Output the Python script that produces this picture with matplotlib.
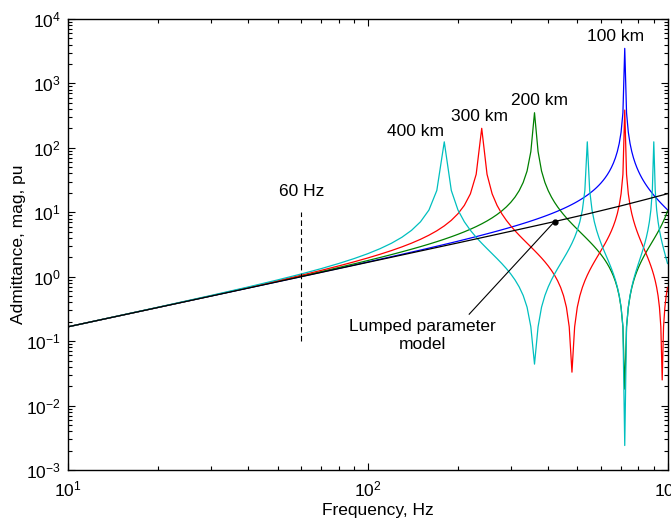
import matplotlib
matplotlib.use("Agg")
import matplotlib.pyplot as plt
from matplotlib.ticker import LogLocator

plt.rcParams['font.family'] = ['Liberation Sans', 'DejaVu Sans']
plt.rcParams['mathtext.fontset'] = 'custom'
plt.rcParams['mathtext.rm'] = 'Liberation Sans'
plt.rcParams['mathtext.it'] = 'Liberation Sans'
plt.rcParams['mathtext.bf'] = 'Liberation Sans'
plt.rcParams['mathtext.sf'] = 'Liberation Sans'

# frequency samples, Hz
freq = [10, 20, 30, 40, 50, 60, 70, 80, 90, 100,
        110, 120, 130, 140, 150, 160, 170, 180, 190, 200,
        210, 220, 230, 240, 250, 260, 270, 280, 290, 300,
        310, 320, 330, 340, 350, 360, 370, 380, 390, 400,
        410, 420, 430, 440, 450, 460, 470, 480, 490, 500,
        510, 520, 530, 540, 550, 560, 570, 580, 590, 600,
        610, 620, 630, 640, 650, 660, 670, 680, 690, 700,
        710, 720, 730, 740, 750, 760, 770, 780, 790, 800,
        810, 820, 830, 840, 850, 860, 870, 880, 890, 900,
        910, 920, 930, 940, 950, 960, 970, 980, 990, 1000]

y_100km = [0.1667, 0.3335, 0.5007, 0.6683, 0.8366, 1.006, 1.176, 1.347, 1.520, 1.694,
           1.869, 2.047, 2.227, 2.409, 2.593, 2.780, 2.971, 3.164, 3.361, 3.562,
           3.767, 3.977, 4.191, 4.410, 4.635, 4.867, 5.104, 5.349, 5.601, 5.862,
           6.131, 6.410, 6.699, 7.000, 7.313, 7.639, 7.980, 8.337, 8.711, 9.104,
           9.518, 9.955, 10.42, 10.91, 11.43, 11.99, 12.59, 13.23, 13.92, 14.67,
           15.49, 16.38, 17.36, 18.44, 19.64, 20.99, 22.50, 24.23, 26.21, 28.51,
           31.22, 34.46, 38.40, 43.32, 49.63, 58.02, 69.75, 87.31, 116.6, 175.0,
           350.1, 3500.0, 350.1, 175.0, 116.6, 87.31, 69.75, 58.02, 49.63, 43.32,
           38.40, 34.46, 31.22, 28.51, 26.21, 24.23, 22.50, 20.99, 19.64, 18.44,
           17.36, 16.38, 15.49, 14.67, 13.92, 13.23, 12.59, 11.99, 11.43, 10.91]

y_200km = [0.1668, 0.3342, 0.5029, 0.6736, 0.8469, 1.024, 1.204, 1.390, 1.582, 1.781,
           1.989, 2.206, 2.434, 2.675, 2.931, 3.205, 3.500, 3.820, 4.169, 4.553,
           4.978, 5.456, 5.996, 6.616, 7.338, 8.192, 9.222, 10.50, 12.12, 14.26,
           17.23, 21.66, 29.02, 43.66, 87.49, 351.0, 87.49, 43.66, 29.02, 21.66,
           17.23, 14.26, 12.12, 10.50, 9.222, 8.192, 7.338, 6.616, 5.996, 5.456,
           4.978, 4.553, 4.169, 3.820, 3.500, 3.205, 2.931, 2.675, 2.434, 2.206,
           1.989, 1.781, 1.582, 1.390, 1.204, 1.024, 0.8469, 0.6736, 0.5029, 0.3342,
           0.1668, 0.018, 0.1668, 0.3342, 0.5029, 0.6736, 0.8469, 1.024, 1.204, 1.390,
           1.582, 1.781, 1.989, 2.206, 2.434, 2.675, 2.931, 3.205, 3.500, 3.820,
           4.169, 4.553, 4.978, 5.456, 5.996, 6.616, 7.338, 8.192, 9.222, 10.50]

y_300km = [0.1669, 0.3352, 0.5064, 0.6822, 0.8642, 1.055, 1.256, 1.470, 1.701, 1.954,
           2.233, 2.546, 2.903, 3.318, 3.810, 4.410, 5.163, 6.147, 7.500, 9.502,
           12.80, 19.34, 38.85, 201.0, 38.85, 19.34, 12.80, 9.502, 7.500, 6.147,
           5.163, 4.410, 3.810, 3.318, 2.903, 2.546, 2.233, 1.954, 1.701, 1.470,
           1.256, 1.055, 0.8642, 0.6822, 0.5064, 0.3352, 0.1669, 0.033, 0.1669, 0.3352,
           0.5064, 0.6822, 0.8642, 1.055, 1.256, 1.470, 1.701, 1.954, 2.233, 2.546,
           2.903, 3.318, 3.810, 4.410, 5.163, 6.147, 7.500, 9.502, 12.80, 19.34,
           38.85, 386.0, 38.85, 19.34, 12.80, 9.502, 7.500, 6.147, 5.163, 4.410,
           3.810, 3.318, 2.903, 2.546, 2.233, 1.954, 1.701, 1.470, 1.256, 1.055,
           0.8642, 0.6822, 0.5064, 0.3352, 0.1669, 0.025, 0.1669, 0.3352, 0.5064, 0.6822]

y_400km = [0.167, 0.337, 0.512, 0.695, 0.891, 1.103, 1.337, 1.603, 1.910, 2.276,
           2.728, 3.308, 4.096, 5.248, 7.128, 10.83, 21.83, 124.0, 21.83, 10.83,
           7.128, 5.248, 4.096, 3.308, 2.728, 2.276, 1.910, 1.603, 1.337, 1.103,
           0.891, 0.695, 0.512, 0.337, 0.167, 0.044, 0.167, 0.337, 0.512, 0.695,
           0.891, 1.103, 1.337, 1.603, 1.910, 2.276, 2.728, 3.308, 4.096, 5.248,
           7.128, 10.83, 21.83, 124.0, 21.83, 10.83, 7.128, 5.248, 4.096, 3.308,
           2.728, 2.276, 1.910, 1.603, 1.337, 1.103, 0.891, 0.695, 0.512, 0.337,
           0.167, 0.0024, 0.167, 0.337, 0.512, 0.695, 0.891, 1.103, 1.337, 1.603,
           1.910, 2.276, 2.728, 3.308, 4.096, 5.248, 7.128, 10.83, 21.83, 124.0,
           21.83, 10.83, 7.128, 5.248, 4.096, 3.308, 2.728, 2.276, 1.910, 1.603]

# lumped parameter model
f_lumped = [10, 60, 100, 200, 300, 420, 540, 700, 850, 1000]
y_lumped = [0.167, 1.0, 1.67, 3.35, 5.07, 7.18, 9.4, 12.6, 15.9, 19.4]

# curve labels (text, freq, admittance)
labels = [("100 km", 671, 5310), ("200 km", 374, 552),
          ("300 km", 236, 312), ("400 km", 144, 182)]

fig = plt.figure(figsize=(6.71, 5.19), dpi=100)
ax = fig.add_axes([0.1013, 0.0944, 0.8935, 0.869])

lw = 0.9
ax.loglog(freq, y_100km, color=(0, 0, 1), lw=lw)
ax.loglog(freq, y_200km, color=(0, 0.5, 0), lw=lw)
ax.loglog(freq, y_300km, color=(1, 0, 0), lw=lw)
ax.loglog(freq, y_400km, color=(0, 0.75, 0.75), lw=lw)
ax.loglog(f_lumped, y_lumped, color='k', lw=lw)

# 60 Hz marker
ax.plot([60, 60], [0.1, 10], color='k', lw=0.8, dashes=(5, 3))
ax.text(60, 20.8, "60 Hz", ha='center', va='center', fontsize=12.5)

for txt, fx, fy in labels:
    ax.text(fx, fy, txt, ha='center', va='center', fontsize=12.5)

# lumped model callout
ax.plot([218, 420], [0.262, 7.18], color='k', lw=0.8)
ax.plot([420], [7.18], 'ko', ms=3.5)
ax.text(152, 0.1217, "Lumped parameter\nmodel", ha='center', va='center',
        fontsize=12.5, linespacing=1.2)

ax.set_xlim(10, 1000)
ax.set_ylim(1e-3, 1e4)
ax.yaxis.set_major_locator(LogLocator(base=10, numticks=20))
ax.yaxis.set_minor_locator(LogLocator(base=10, subs=range(2, 10), numticks=20))

ax.tick_params(which='both', direction='in', top=True, right=True, width=0.8)
ax.tick_params(which='major', length=5, labelsize=12.5)
ax.tick_params(which='minor', length=3)
ax.tick_params(axis='x', pad=7)
ax.tick_params(axis='y', pad=5)
for s in ax.spines.values():
    s.set_linewidth(1.0)

ax.set_xlabel("Frequency, Hz", fontsize=12.5, va='top')
ax.xaxis.set_label_coords(0.517, -0.0725)
ax.set_ylabel("Admittance, mag, pu", fontsize=12.5)
ax.yaxis.set_label_coords(-0.070, 0.5)

fig.savefig("out.png", dpi=100)
